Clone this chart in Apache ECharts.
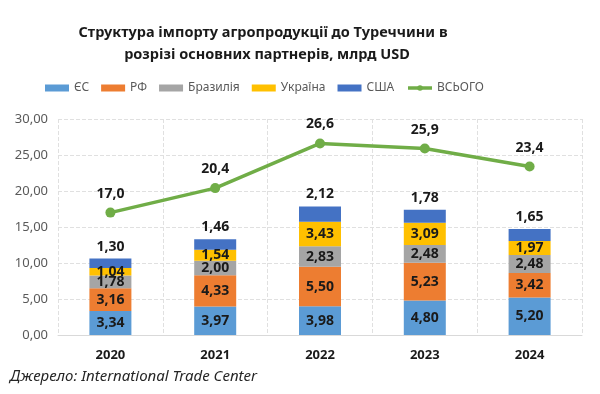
<!DOCTYPE html>
<html><head><meta charset="utf-8">
<script src="https://cdn.jsdelivr.net/npm/echarts@6/dist/echarts.min.js"></script>
<style>html,body{margin:0;padding:0;background:#fff}#c{width:600px;height:394px}</style>
</head><body><div id="c"></div>
<script>
const categories = ['2020','2021','2022','2023','2024'];
const seriesNames = ['ЄС','РФ','Бразилія','Україна','США'];
const eu = [3.34, 3.97, 3.98, 4.80, 5.20];
const ru = [3.16, 4.33, 5.50, 5.23, 3.42];
const br = [1.78, 2.00, 2.83, 2.48, 2.48];
const ua = [1.04, 1.54, 3.43, 3.09, 1.97];
const us = [1.30, 1.46, 2.12, 1.78, 1.65];
const total = [17.0, 20.4, 26.6, 25.9, 23.4];
const totalName = 'ВСЬОГО';
const yTicks = {min: 0, max: 30, interval: 5};

const colors = ['#5B9BD5','#ED7D31','#A5A5A5','#FFC000','#4472C4'];
const FONT = '"Noto Sans", sans-serif';
const fmt2 = p => p.value.toFixed(2).replace('.', ',');
const fmt1 = p => p.value.toFixed(1).replace('.', ',');
const stackData = [eu, ru, br, ua, us];

const chart = echarts.init(document.getElementById('c'), null, {renderer: 'canvas'});
const series = stackData.map((d, i) => ({
  name: seriesNames[i], type: 'bar', stack: 'all', data: d, barWidth: 42,
  itemStyle: {color: colors[i]},
  label: {show: true, position: i === 4 ? 'top' : 'inside', formatter: fmt2,
    color: '#1a1a1a', fontWeight: 'bold', fontSize: 14, fontFamily: FONT, distance: 5}
}));
series.push({
  name: totalName, type: 'line', data: total, symbol: 'circle', symbolSize: 10,
  lineStyle: {color: '#70AD47', width: 3.5}, itemStyle: {color: '#70AD47'},
  label: {show: true, position: 'top', formatter: fmt1, color: '#1a1a1a',
    fontWeight: 'bold', fontSize: 14, fontFamily: FONT, distance: 7}
});
chart.setOption({
  animation: false,
  textStyle: {fontFamily: FONT},
  legend: {left: 40, top: 77, itemWidth: 24, itemHeight: 7, itemGap: 12,
    textStyle: {color: '#595959', fontSize: 12, fontFamily: FONT},
    data: seriesNames.map(n => ({name: n, icon: 'rect'})).concat([{name: totalName,
      lineStyle: {width: 3.5}, itemStyle: {color: '#70AD47'}}])},
  grid: {left: 58, right: 18, top: 119, bottom: 59, containLabel: false},
  xAxis: {type: 'category', data: categories,
    axisLine: {lineStyle: {color: '#d9d9d9'}}, axisTick: {show: false},
    splitLine: {show: true, lineStyle: {color: '#e0e0e0', type: 'dashed'}},
    axisLabel: {color: '#1a1a1a', fontWeight: 'bold', fontSize: 13, margin: 14, fontFamily: FONT}},
  yAxis: {type: 'value', min: yTicks.min, max: yTicks.max, interval: yTicks.interval,
    axisLine: {show: false}, axisTick: {show: false},
    splitLine: {lineStyle: {color: '#e0e0e0', type: 'dashed'}},
    axisLabel: {color: '#595959', fontSize: 13, margin: 10, fontFamily: FONT,
      formatter: v => v.toFixed(2).replace('.', ',')}},
  graphic: [
    {type: 'text', x: 263, y: 33,
      style: {text: 'Структура імпорту агропродукції до Туреччини в', fill: '#1a1a1a',
        font: 'bold 14.5px "Noto Sans", sans-serif', textAlign: 'center', textVerticalAlign: 'middle'}},
    {type: 'text', x: 267, y: 55,
      style: {text: 'розрізі основних партнерів, млрд USD', fill: '#1a1a1a',
        font: 'bold 14.5px "Noto Sans", sans-serif', textAlign: 'center', textVerticalAlign: 'middle'}},
    {type: 'text', x: 10, y: 377,
      style: {text: 'Джерело: International Trade Center', fill: '#262626',
        font: 'italic 15px "Noto Sans", sans-serif', textVerticalAlign: 'middle'}}],
  series: series
});
</script></body></html>
